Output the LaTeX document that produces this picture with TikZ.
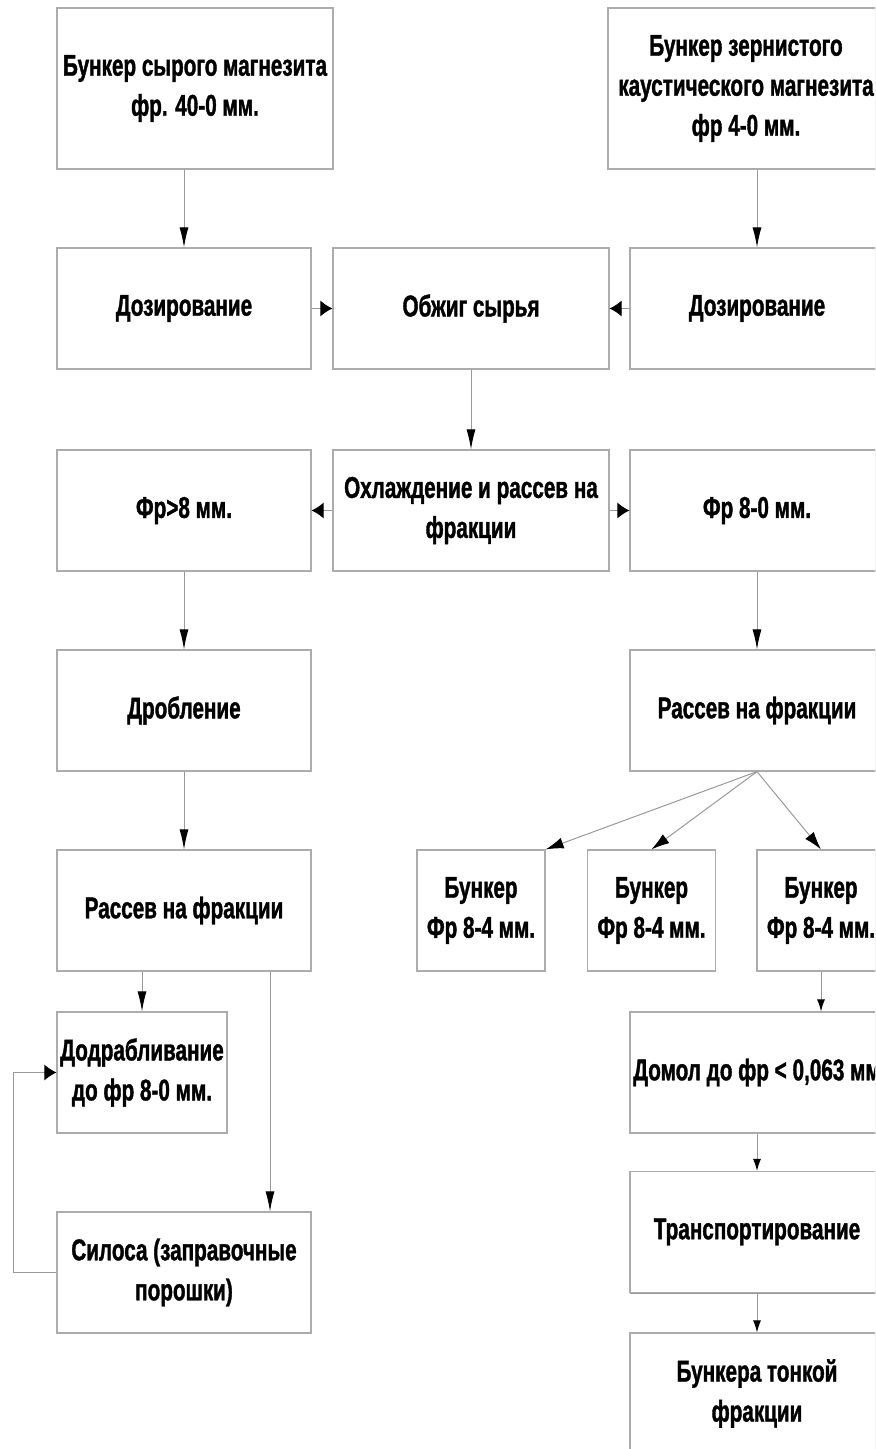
\documentclass[tikz,border=0pt]{standalone}
\usepackage{fontspec}
\setmainfont{Liberation Sans}[FakeStretch=0.69, BoldFeatures={FakeBold=1.2}]
\usetikzlibrary{arrows.meta,shadows}

\begin{document}
\begin{tikzpicture}[x=0.5pt, y=-0.5pt,
  boxstd/.style={draw=gray!65, fill=white, line width=0.6pt, align=center, inner sep=0pt,
    minimum width=127pt, minimum height=60.5pt,
    drop shadow={shadow xshift=0pt, shadow yshift=-0.7pt, fill=gray!80, opacity=1},
    font=\bfseries\fontsize{15}{20}\selectfont},
  boxwide/.style={boxstd, minimum width=138pt},
  boxtop/.style={boxwide, minimum height=80.5pt},
  boxbunk/.style={boxstd, minimum width=64pt},
  boxdodr/.style={boxstd, minimum width=85pt},
  conn/.style={draw=gray!80, line width=0.5pt},
  down/.style={conn, -{Latex[color=black, length=10pt, width=4.5pt]}},
  downsmall/.style={conn, -{Latex[color=black, length=6pt, width=4pt]}},
  side/.style={conn, -{Latex[color=black, length=6pt, width=8pt]}},
  fan/.style={conn, -{Latex[color=black, length=9pt, width=5.5pt]}}]

% --- Page ---
\useasboundingbox (0,0) rectangle (875,1449);
\clip (0,0) rectangle (875,1449);

% --- Row 1: input bunkers ---
\node[boxtop] (raw) at (195,88.5) {Бункер сырого магнезита\\фр. 40-0 мм.};
\node[boxtop] (caust) at (746,88.5) {Бункер зернистого\\каустического магнезита\\фр 4-0 мм.};

% --- Row 2: dosing and burning ---
\node[boxstd] (dosL) at (184,308.5) {Дозирование};
\node[boxwide] (burn) at (471,308.5) {Обжиг сырья};
\node[boxstd] (dosR) at (757,308.5) {Дозирование};

% --- Row 3: cooling ---
\node[boxstd] (coarse) at (184,510.5) {Фр>8 мм.};
\node[boxwide] (cool) at (471,510.5) {Охлаждение и рассев на\\фракции};
\node[boxstd] (fine) at (757,510.5) {Фр 8-0 мм.};

% --- Row 4 ---
\node[boxstd] (crush) at (184,710.5) {Дробление};
\node[boxstd] (sieveR) at (757,710.5) {Рассев на фракции};

% --- Row 5 ---
\node[boxstd] (sieveL) at (184,910.5) {Рассев на фракции};
\node[boxbunk] (binA) at (481,910.5) {Бункер\\Фр 8-4 мм.};
\node[boxbunk] (binB) at (651.5,910.5) {Бункер\\Фр 8-4 мм.};
\node[boxbunk] (binC) at (821,910.5) {Бункер\\Фр 8-4 мм.};

% --- Row 6 and below ---
\node[boxdodr] (recrush) at (142,1072.5) {Додрабливание\\до фр 8-0 мм.};
\node[boxstd] (mill) at (757,1072.5) {Домол до фр < 0,063 мм};
\node[boxstd] (silo) at (184,1272.5) {Силоса (заправочные\\порошки)};
\node[boxstd] (transp) at (757,1232) {Транспортирование};
\node[boxstd] (finebin) at (757,1393.5) {Бункера тонкой\\фракции};

% Tap point of the bypass line
\coordinate (tap) at (270,0);

% --- Connectors ---
\draw[down] (raw.south -| dosL) -- (dosL.north);
\draw[down] (caust.south -| dosR) -- (dosR.north);
\draw[side] (dosL.east) -- (burn.west);
\draw[side] (dosR.west) -- (burn.east);
\draw[down] (burn.south) -- (cool.north);
\draw[side] (cool.west) -- (coarse.east);
\draw[side] (cool.east) -- (fine.west);
\draw[down] (coarse.south) -- (crush.north);
\draw[down] (crush.south) -- (sieveL.north);
\draw[down] (fine.south) -- (sieveR.north);

% Fan to the bunkers
\draw[fan] (sieveR.south) -- (binA.north east);
\draw[fan] (sieveR.south) -- (binB.north);
\draw[fan] (sieveR.south) -- (binC.north);

% Left branch
\draw[down] (sieveL.south -| recrush) -- (recrush.north);
\draw[down] (sieveL.south -| tap) -- (silo.north -| tap);
\draw[side] (silo.west) -- ++(-43,0) |- (recrush.west);

% Right branch
\draw[downsmall] (binC.south) -- (binC.south |- mill.north);
\draw[downsmall] (mill.south) -- (transp.north);
\draw[downsmall] (transp.south) -- (finebin.north);

\end{tikzpicture}
\end{document}
